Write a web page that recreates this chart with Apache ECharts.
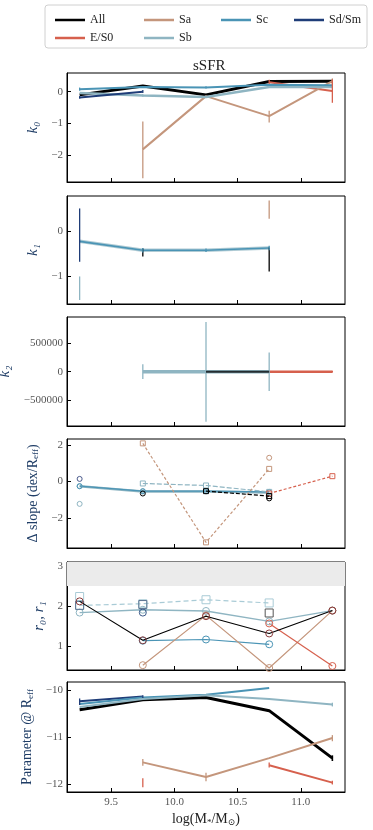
<!DOCTYPE html>
<html>
<head>
<meta charset="utf-8">
<script src="https://cdn.jsdelivr.net/npm/echarts@6/dist/echarts.min.js"></script>
<style>
  html, body { margin: 0; padding: 0; background: #fff; }
  #chart { width: 373px; height: 830px; }
</style>
</head>
<body>
<div id="chart"></div>
<script>
// mass bins (log M*/Msun) and x tick labels
const massBins = [9.25, 9.75, 10.25, 10.75, 11.25];
const xTicks = [9.5, 10.0, 10.5, 11.0];

// k0
const k0All = [-0.1, 0.18, -0.1, 0.32, 0.33];
const k0E = [null, null, null, 0.3, 0.02];
const k0Sa = [null, -1.82, -0.14, -0.77, 0.33];
const k0Sb = [-0.04, -0.12, -0.17, 0.15, 0.15];
const k0Sc = [0.08, 0.15, 0.13, 0.22, 0.2];
const k0Sd = [-0.18, 0.0, null, null, null];
const k0ErrSa = [[9.75, -2.73, -0.94], [10.75, -0.97, -0.6], [11.25, 0.22, 0.42]];
const k0ErrE = [[10.75, 0.24, 0.38], [11.25, -0.35, 0.39]];
const k0ErrSd = [[9.25, -0.22, -0.14], [9.75, -0.04, 0.05]];
const k0ErrSc = [[9.25, 0.03, 0.13], [10.25, 0.1, 0.17]];
const k0ErrSb = [[9.75, -0.16, -0.08]];

// k1
const k1Sc = [-0.22, -0.42, -0.42, -0.37, null];
const k1Sb = [-0.22, -0.42, -0.42, -0.37, null];
const k1ErrSd = [[9.25, -0.68, 0.52]];
const k1ErrSb = [[9.25, -1.54, -1.01]];
const k1ErrAll = [[9.75, -0.56, -0.38], [10.75, -0.9, -0.36]];
const k1ErrSa = [[10.75, 0.29, 0.7]];
const k1ErrSc = [[9.75, -0.47, -0.37], [10.25, -0.46, -0.38], [10.75, -0.42, -0.32]];

// k2
const k2Sb = [null, 0, 0, 0, null];
const k2All = [null, null, 0, 0, null];
const k2E = [null, null, null, 0, 0];
const k2ErrSb = [[9.75, -130000, 130000], [10.25, -877000, 870000], [10.75, -340000, 333000]];
const k2ErrE = [[11.25, -15000, 15000]];

// delta slope (dex/Reff): circles = inner, squares = outer
const dsInSc = [-0.26, -0.53, -0.53, -0.57, null];
const dsInSb = [-0.26, -0.55, -0.55, -0.6, null];
const dsInSbLow = [-1.23, null, null, null, null];
const dsInAll = [null, -0.66, null, -0.93, null];
const dsInSd = [0.14, null, null, null, null];
const dsInSa = [null, null, null, 1.3, null];
const dsOutAll = [null, null, -0.53, -0.8, null];
const dsOutSb = [null, -0.11, -0.22, -0.57, null];
const dsOutSa = [null, 2.09, -3.34, 0.69, null];
const dsOutE = [null, null, null, -0.66, 0.29];

// r0 (circles), r1 (squares)
const r0All = [2.12, 1.15, 1.75, 1.32, 1.89];
const r0Sb = [1.84, 1.91, 1.88, 1.62, 1.89];
const r0Sc = [null, 1.14, 1.17, 1.05, null];
const r0Sa = [null, 0.53, 1.77, 0.46, 1.89];
const r0E = [null, null, null, 1.57, 0.51];
const r0Sd = [null, 1.84, null, null, null];
const r1Sb = [2.02, 2.06, 2.16, 2.08, null];
const r1Sc = [2.24, null, null, null, null];
const r1Sd = [2.02, 2.04, null, null, null];
const r1All = [null, null, null, 1.83, null];
const rBand = [2.5, 3.1];

// parameter @ Reff
const pAll = [-10.41, -10.2, -10.15, -10.43, -11.44];
const pSd = [-10.23, -10.13, null, null, null];
const pSc = [-10.29, -10.15, -10.09, -9.95, null];
const pSb = [-10.35, -10.18, -10.1, -10.18, -10.3];
const pSa = [null, -11.53, -11.84, -11.44, -11.01];
const pE = [null, null, null, -11.59, -11.96];
const pErrSd = [[9.25, -10.31, -10.17], [9.75, -10.17, -10.1]];
const pErrSb = [[11.25, -10.34, -10.26]];
const pErrAll = [[11.25, -11.5, -11.38]];
const pErrSa = [[9.75, -11.6, -11.46], [10.25, -11.93, -11.75], [11.25, -11.08, -10.95]];
const pErrE = [[9.75, -12.06, -11.87], [10.75, -11.64, -11.53], [11.25, -12.0, -11.92]];

const C = {
  All: '#000000',
  'E/S0': '#d6604d',
  Sa: '#c4967c',
  Sb: '#8fb5c2',
  Sc: '#4a94b5',
  'Sd/Sm': '#1f3d78'
};
const SERIF = '"Liberation Serif", "DejaVu Serif", serif';

const grids = [
  { top: 73, height: 109 },
  { top: 196, height: 108 },
  { top: 317, height: 109 },
  { top: 439, height: 109 },
  { top: 562, height: 108 },
  { top: 682, height: 110 }
];
const yCfg = [
  { min: -2.85, max: 0.59, ticks: [-2, -1, 0], name: 'k₀', gap: 20 },
  { min: -1.63, max: 0.8, ticks: [-1, 0], name: 'k₁', gap: 20 },
  { min: -951000, max: 956000, ticks: [-500000, 0, 500000], name: 'k₂', gap: 46 },
  { min: -3.65, max: 2.33, ticks: [-2, 0, 2], name: '{n|Δ slope (dex/R}{s|eff}{n|)}', gap: 20 },
  { min: 0.41, max: 3.1, ticks: [1, 2, 3], name: 'r₀, r₁', gap: 10 },
  { min: -12.16, max: -9.82, ticks: [-12, -11, -10], name: '{n|Parameter @ R}{s|eff}', gap: 24 }
];

function pts(vals) {
  return massBins.map((x, i) => [x, vals[i] == null ? '-' : vals[i]]);
}

function line(name, gi, vals, o) {
  o = o || {};
  const color = C[name];
  return {
    name: name,
    type: 'line',
    xAxisIndex: gi,
    yAxisIndex: gi,
    data: pts(vals),
    color: color,
    z: o.z || 2,
    lineStyle: { color: o.lc || color, width: o.w == null ? 2 : o.w, type: o.dash || 'solid', opacity: o.op == null ? 1 : o.op },
    symbol: o.sym || 'none',
    symbolSize: o.ss || 6,
    showSymbol: !!o.sym,
    itemStyle: o.sym ? { color: 'rgba(0,0,0,0)', borderColor: o.mc || color, borderWidth: 1 } : { color: color },
    emphasis: { disabled: true },
    animation: false
  };
}

function errBars(name, gi, data, w) {
  return {
    name: name,
    type: 'custom',
    xAxisIndex: gi,
    yAxisIndex: gi,
    data: data,
    color: C[name],
    z: 3,
    encode: { x: 0, y: [1, 2] },
    renderItem: function (params, api) {
      const p1 = api.coord([api.value(0), api.value(1)]);
      const p2 = api.coord([api.value(0), api.value(2)]);
      return {
        type: 'line',
        shape: { x1: p1[0], y1: p1[1], x2: p2[0], y2: p2[1] },
        style: { stroke: C[name], lineWidth: w || 1.3 }
      };
    },
    animation: false
  };
}

const series = [
  // panel 1: k0
  line('All', 0, k0All, { w: 3 }),
  line('E/S0', 0, k0E),
  line('Sa', 0, k0Sa),
  line('Sb', 0, k0Sb, { w: 2.5 }),
  line('Sc', 0, k0Sc),
  line('Sd/Sm', 0, k0Sd),
  errBars('Sa', 0, k0ErrSa),
  errBars('E/S0', 0, k0ErrE),
  errBars('Sd/Sm', 0, k0ErrSd),
  errBars('Sc', 0, k0ErrSc),
  errBars('Sb', 0, k0ErrSb),
  // panel 2: k1
  line('Sb', 1, k1Sb, { w: 3.5, op: 0.7 }),
  line('Sc', 1, k1Sc, { w: 1.6 }),
  errBars('Sd/Sm', 1, k1ErrSd),
  errBars('Sb', 1, k1ErrSb),
  errBars('All', 1, k1ErrAll),
  errBars('Sa', 1, k1ErrSa),
  errBars('Sc', 1, k1ErrSc),
  // panel 3: k2
  line('Sb', 2, k2Sb, { w: 3.5 }),
  line('All', 2, k2All, { w: 2, op: 0.75, z: 3 }),
  line('E/S0', 2, k2E, { w: 2.5 }),
  errBars('Sb', 2, k2ErrSb),
  errBars('E/S0', 2, k2ErrE),
  // panel 4: delta slope
  line('Sb', 3, dsInSb, { w: 2.5, sym: 'circle', ss: 5 }),
  line('Sc', 3, dsInSc, { w: 1.2, sym: 'circle', ss: 5 }),
  line('Sb', 3, dsInSbLow, { w: 1, sym: 'circle', ss: 5 }),
  line('All', 3, dsInAll, { w: 1, sym: 'circle', ss: 5 }),
  line('Sd/Sm', 3, dsInSd, { w: 1, sym: 'circle', ss: 5, mc: '#4a5a8c' }),
  line('Sa', 3, dsInSa, { w: 1, sym: 'circle', ss: 5 }),
  line('Sb', 3, dsOutSb, { w: 1.2, dash: [5, 2], sym: 'rect', ss: 5 }),
  line('All', 3, dsOutAll, { w: 1.2, dash: [4, 2], sym: 'rect', ss: 5, z: 4 }),
  line('Sa', 3, dsOutSa, { w: 1.2, dash: [3, 2], sym: 'rect', ss: 5 }),
  line('E/S0', 3, dsOutE, { w: 1.2, dash: [3, 2], sym: 'rect', ss: 5 }),
  // panel 5: r0, r1
  Object.assign(line('All', 4, r0All, { w: 1.1, sym: 'circle', ss: 7, mc: '#8a3b3b', z: 4 }), {
    markArea: {
      silent: true,
      itemStyle: { color: '#ebebeb' },
      data: [[{ yAxis: rBand[0] }, { yAxis: rBand[1] }]]
    }
  }),
  line('Sb', 4, r0Sb, { w: 1.4, sym: 'circle', ss: 7 }),
  line('Sc', 4, r0Sc, { w: 1.2, sym: 'circle', ss: 7 }),
  line('Sa', 4, r0Sa, { w: 1.2, sym: 'circle', ss: 7 }),
  line('E/S0', 4, r0E, { w: 1.2, sym: 'circle', ss: 7 }),
  line('Sd/Sm', 4, r0Sd, { w: 1, sym: 'circle', ss: 7, mc: '#3c5a8a' }),
  line('Sb', 4, r1Sb, { w: 1.2, dash: [5, 3], sym: 'rect', ss: 8, lc: '#a9cbd6', mc: '#a9cbd6' }),
  line('Sc', 4, r1Sc, { w: 1, sym: 'rect', ss: 8, mc: '#a9cbd6' }),
  line('Sd/Sm', 4, r1Sd, { w: 0, sym: 'rect', ss: 8, mc: '#5a7290' }),
  line('All', 4, r1All, { w: 0, sym: 'rect', ss: 8, mc: '#555555' }),
  // panel 6: parameter @ Reff
  line('All', 5, pAll, { w: 3 }),
  line('Sd/Sm', 5, pSd, { w: 2 }),
  line('Sc', 5, pSc, { w: 2 }),
  line('Sb', 5, pSb, { w: 2, z: 3 }),
  line('Sa', 5, pSa, { w: 2 }),
  line('E/S0', 5, pE, { w: 2 }),
  errBars('Sd/Sm', 5, pErrSd),
  errBars('Sb', 5, pErrSb),
  errBars('All', 5, pErrAll, 1.6),
  errBars('Sa', 5, pErrSa),
  errBars('E/S0', 5, pErrE)
];

const tickTxt = { fontFamily: SERIF, fontSize: 11, color: '#555' };

const option = {
  animation: false,
  backgroundColor: '#fff',
  title: {
    text: 'sSFR',
    left: 188,
    top: 54,
    textStyle: { fontFamily: SERIF, fontSize: 15, fontWeight: 'normal', color: '#222' }
  },
  legend: [
    { data: ['All', 'E/S0'], left: 50, top: 9 },
    { data: ['Sa', 'Sb'], left: 139, top: 9 },
    { data: ['Sc'], left: 216, top: 9 },
    { data: ['Sd/Sm'], left: 289, top: 9 }
  ].map(l => Object.assign(l, {
    orient: 'vertical',
    icon: 'rect',
    itemWidth: 30,
    itemHeight: 2.5,
    itemGap: 6,
    selectedMode: false,
    textStyle: { fontFamily: SERIF, fontSize: 12, color: '#222' }
  })),
  graphic: [{
    type: 'rect',
    shape: { x: 45, y: 5, width: 322, height: 43, r: 3 },
    style: { fill: 'none', stroke: '#d0d0d0', lineWidth: 1 },
    z: -1
  }],
  grid: grids.map(g => ({
    left: 67, right: 28, top: g.top, height: g.height,
    outerBoundsMode: 'none',
    containLabel: false,
    show: true, borderColor: '#000', borderWidth: 1, backgroundColor: 'transparent'
  })),
  xAxis: grids.map((g, i) => ({
    gridIndex: i,
    type: 'value',
    min: 9.15,
    max: 11.35,
    axisLine: { show: true, onZero: false, lineStyle: { color: '#000' } },
    axisTick: { show: true, inside: true, length: 4, customValues: xTicks, lineStyle: { color: '#000' } },
    axisLabel: Object.assign({ show: i === 5, customValues: xTicks, margin: 5, formatter: v => v.toFixed(1) }, tickTxt),
    splitLine: { show: false },
    name: i === 5 ? 'log(M{s|*}/M{s|⊙})' : '',
    nameLocation: 'middle',
    nameGap: 20,
    nameTextStyle: {
      fontFamily: SERIF, fontSize: 14, color: '#222',
      rich: { s: { fontFamily: SERIF, fontSize: 9, color: '#222', padding: [6, 0, 0, 0] } }
    }
  })),
  yAxis: yCfg.map((c, i) => ({
    gridIndex: i,
    type: 'value',
    min: c.min,
    max: c.max,
    axisLine: { show: true, onZero: false, lineStyle: { color: '#000' } },
    axisTick: { show: true, inside: true, length: 4, customValues: c.ticks, lineStyle: { color: '#000' } },
    axisLabel: Object.assign({ customValues: c.ticks, margin: 4, formatter: v => String(v).replace('-', '−') }, tickTxt),
    splitLine: { show: false },
    name: c.name,
    nameLocation: 'middle',
    nameGap: c.gap,
    nameTextStyle: {
      fontFamily: SERIF, fontSize: 15, color: '#1f3d66',
      fontStyle: (i === 3 || i === 5) ? 'normal' : 'italic',
      rich: {
        n: { fontFamily: SERIF, fontSize: 14, color: '#1f3d66' },
        s: { fontFamily: SERIF, fontSize: 9, color: '#1f3d66', padding: [6, 0, 0, 0] }
      }
    }
  })),
  series: series
};

const chart = echarts.init(document.getElementById('chart'), null, { renderer: 'canvas' });
chart.setOption(option);
</script>
</body>
</html>
